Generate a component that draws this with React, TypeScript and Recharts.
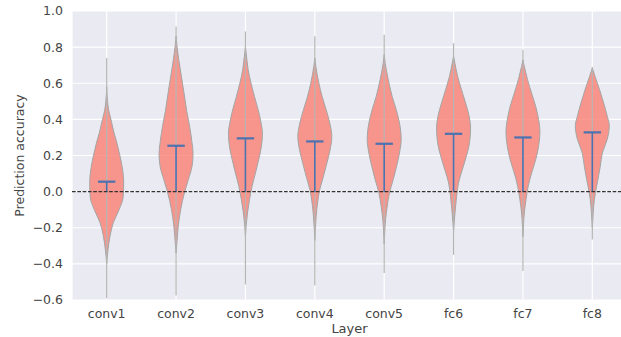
import { ComposedChart, Area, Line, XAxis, YAxis, CartesianGrid } from 'recharts';

const LAYERS = ['conv1', 'conv2', 'conv3', 'conv4', 'conv5', 'fc6', 'fc7', 'fc8'];
const Y_TICKS = [-0.6, -0.4, -0.2, 0, 0.2, 0.4, 0.6, 0.8, 1.0];

// mean accuracy per layer (blue T marker)
const MEANS = [0.055, 0.254, 0.295, 0.278, 0.265, 0.32, 0.30, 0.328];
// extremes of the data (thin tails)
const MAXS = [0.74, 0.914, 0.887, 0.86, 0.868, 0.822, 0.785, 0.69];
const MINS = [-0.59, -0.575, -0.514, -0.52, -0.45, -0.35, -0.44, -0.265];

// density profiles, top to bottom: [accuracy, relative density]
const conv1Profile = [[0.58, 0], [0.5, 0.05], [0.45, 0.12], [0.4, 0.25], [0.33, 0.42], [0.27, 0.6], [0.195, 0.79], [0.12, 0.94], [0.05, 1.0], [-0.03, 0.97], [-0.1, 0.73], [-0.17, 0.4], [-0.25, 0.19], [-0.32, 0.08], [-0.4, 0]];
const conv2Profile = [[0.86, 0], [0.8, 0.06], [0.73, 0.16], [0.64, 0.31], [0.545, 0.47], [0.45, 0.62], [0.36, 0.8], [0.27, 0.94], [0.21, 1.0], [0.14, 0.94], [0.066, 0.72], [0.0, 0.51], [-0.1, 0.27], [-0.19, 0.13], [-0.28, 0.05], [-0.34, 0]];
const conv3Profile = [[0.8, 0], [0.77, 0.04], [0.675, 0.16], [0.6, 0.33], [0.527, 0.53], [0.453, 0.75], [0.38, 0.92], [0.324, 1.0], [0.25, 0.94], [0.177, 0.78], [0.103, 0.59], [0.03, 0.39], [-0.044, 0.24], [-0.118, 0.12], [-0.19, 0.04], [-0.25, 0]];
const conv4Profile = [[0.74, 0], [0.693, 0.06], [0.6, 0.24], [0.527, 0.43], [0.453, 0.67], [0.38, 0.88], [0.306, 1.0], [0.232, 0.9], [0.158, 0.71], [0.085, 0.51], [0.011, 0.29], [-0.063, 0.16], [-0.136, 0.08], [-0.21, 0.03], [-0.27, 0]];
const conv5Profile = [[0.76, 0], [0.71, 0.06], [0.62, 0.24], [0.527, 0.47], [0.453, 0.71], [0.38, 0.9], [0.29, 1.0], [0.214, 0.9], [0.14, 0.73], [0.066, 0.53], [-0.007, 0.31], [-0.08, 0.18], [-0.155, 0.08], [-0.23, 0.03], [-0.29, 0]];
const fc6Profile = [[0.75, 0], [0.71, 0.08], [0.638, 0.24], [0.564, 0.47], [0.49, 0.71], [0.417, 0.92], [0.352, 1.0], [0.27, 0.94], [0.195, 0.75], [0.12, 0.51], [0.048, 0.29], [-0.026, 0.18], [-0.1, 0.1], [-0.17, 0.04], [-0.22, 0]];
const fc7Profile = [[0.73, 0], [0.693, 0.08], [0.62, 0.27], [0.545, 0.51], [0.472, 0.75], [0.4, 0.92], [0.334, 1.0], [0.25, 0.92], [0.177, 0.75], [0.103, 0.51], [0.03, 0.31], [-0.044, 0.18], [-0.118, 0.08], [-0.19, 0.03], [-0.25, 0]];
const fc8Profile = [[0.684, 0], [0.638, 0.16], [0.564, 0.43], [0.49, 0.67], [0.417, 0.88], [0.365, 1.0], [0.29, 0.88], [0.214, 0.59], [0.14, 0.47], [0.066, 0.33], [-0.007, 0.18], [-0.08, 0.08], [-0.155, 0.03], [-0.2, 0]];

const PROFILES = [conv1Profile, conv2Profile, conv3Profile, conv4Profile, conv5Profile, fc6Profile, fc7Profile, fc8Profile];

const HALF_WIDTH = 0.245;
const CAP = 0.125;
const FONT = '"DejaVu Sans", sans-serif';
const TEXT = '#444';

const fmt = (v: number) => v.toFixed(1).replace('-', '\u2212');

export default function App() {
  const violins = PROFILES.map((p, i) =>
    p.map(([y, d]) => ({ y, r: [i - d * HALF_WIDTH, i + d * HALF_WIDTH] }))
  );
  const tails = PROFILES.map((p, i) => {
    const top = p[0][0];
    const bottom = p[p.length - 1][0];
    return [
      { y: MAXS[i], v: i },
      { y: top, v: i },
      { y: (top + bottom) / 2, v: null },
      { y: bottom, v: i },
      { y: MINS[i], v: i },
    ];
  });
  const stems = MEANS.map((m, i) => [{ y: 0, v: i }, { y: m, v: i }]);
  const caps = MEANS.map((m, i) => [{ y: m, v: i - CAP }, { y: m, v: i + CAP }]);
  const zeroLine = [{ y: 0, v: -0.5 }, { y: 0, v: 7.5 }];

  return (
    <div style={{ position: 'absolute', left: 0, top: 0, width: 621, height: 337, overflow: 'hidden', background: '#fff' }}>
      <ComposedChart layout="vertical" width={627} height={337} margin={{ top: 11, right: 0, bottom: 0, left: 0 }}>
        <CartesianGrid fill="#EAEAF2" stroke="#fff" strokeWidth={1.2} />
        <XAxis
          type="number"
          domain={[-0.5, 7.5]}
          allowDataOverflow
          ticks={[0, 1, 2, 3, 4, 5, 6, 7]}
          tickFormatter={(v: number) => LAYERS[v]}
          axisLine={false}
          tickLine={false}
          tickSize={0}
          tickMargin={9}
          height={37}
          tick={{ fill: TEXT, fontSize: 12.5, fontFamily: FONT }}
          label={{ value: 'Layer', position: 'insideBottom', offset: 4, fill: TEXT, fontSize: 13, fontFamily: FONT }}
        />
        <YAxis
          type="number"
          dataKey="y"
          reversed
          domain={[-0.6, 1.0]}
          allowDataOverflow
          ticks={Y_TICKS}
          tickFormatter={fmt}
          axisLine={false}
          tickLine={false}
          tickSize={0}
          tickMargin={9}
          width={72}
          tick={{ fill: TEXT, fontSize: 12.5, fontFamily: FONT }}
          label={{
            content: (props: any) => {
              const vb = props.viewBox || { y: 11, height: 289 };
              const cy = vb.y + vb.height / 2;
              return (
                <text x={19} y={cy} transform={`rotate(-90 19 ${cy})`} textAnchor="middle" dominantBaseline="central" fill={TEXT} fontSize={12.5} fontFamily={FONT}>
                  Prediction accuracy
                </text>
              );
            },
          }}
        />
        {tails.map((d, i) => (
          <Line key={`t${i}`} data={d} dataKey="v" type="linear" stroke="#b5b5b5" strokeWidth={1.2} dot={false} activeDot={false} isAnimationActive={false} />
        ))}
        {violins.map((d, i) => (
          <Area key={`a${i}`} data={d} dataKey="r" type="monotone" fill="#FA8072" fillOpacity={0.8} stroke="#a5a5a5" strokeWidth={1} activeDot={false} dot={false} isAnimationActive={false} />
        ))}
        {stems.map((d, i) => (
          <Line key={`s${i}`} data={d} dataKey="v" type="linear" stroke="#4C72B0" strokeWidth={1.6} dot={false} activeDot={false} isAnimationActive={false} />
        ))}
        {caps.map((d, i) => (
          <Line key={`c${i}`} data={d} dataKey="v" type="linear" stroke="#4C72B0" strokeWidth={2.2} dot={false} activeDot={false} isAnimationActive={false} />
        ))}
        <Line data={zeroLine} dataKey="v" type="linear" stroke="#333" strokeWidth={1.3} strokeDasharray="3.7 1.6" dot={false} activeDot={false} isAnimationActive={false} />
      </ComposedChart>
    </div>
  );
}
